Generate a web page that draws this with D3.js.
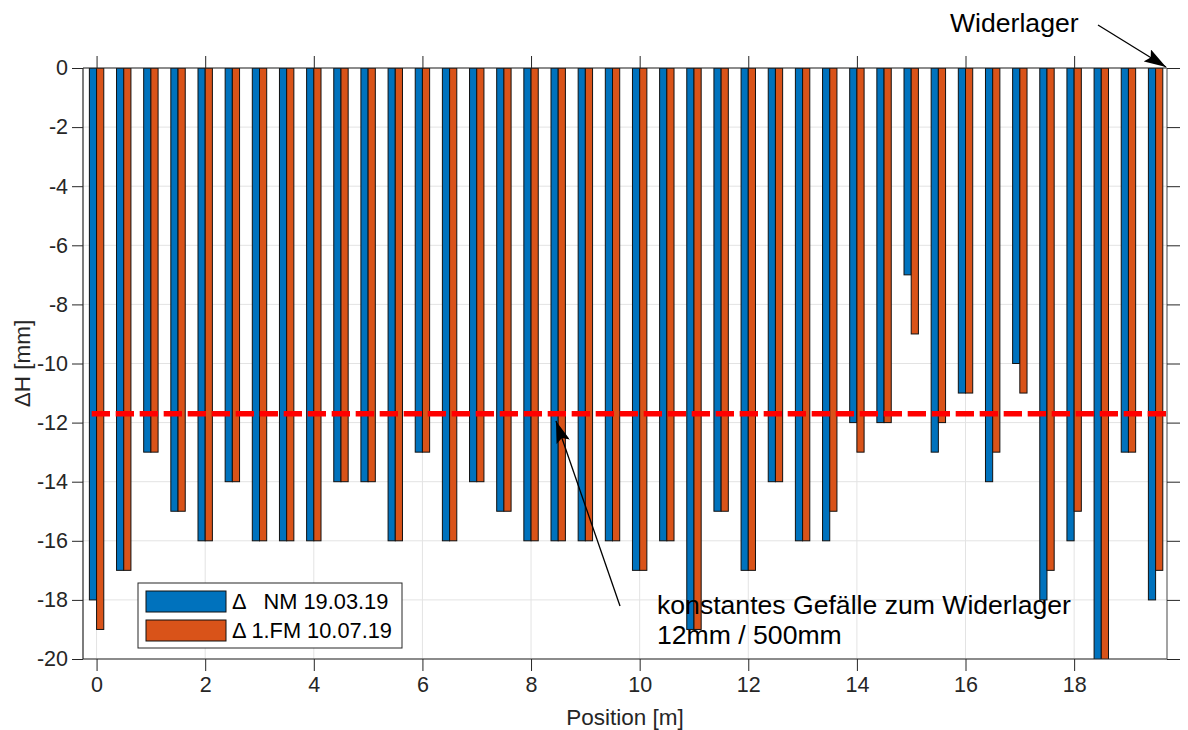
<!DOCTYPE html>
<html>
<head>
<meta charset="utf-8">
<script src="https://cdn.jsdelivr.net/npm/d3@7"></script>
<style>
  html, body { margin: 0; padding: 0; background: #fff; }
  svg { display: block; font-family: "Liberation Sans", Arial, Helvetica, sans-serif; }
</style>
</head>
<body>
<svg id="chart" width="1188" height="730"></svg>
<script>
// ---- data ----
const positions = [0, 0.5, 1, 1.5, 2, 2.5, 3, 3.5, 4, 4.5, 5, 5.5, 6, 6.5, 7, 7.5, 8, 8.5, 9, 9.5,
                   10, 10.5, 11, 11.5, 12, 12.5, 13, 13.5, 14, 14.5, 15, 15.5, 16, 16.5, 17, 17.5, 18, 18.5, 19, 19.5];
const nmValues = [-18, -17, -13, -15, -16, -14, -16, -16, -16, -14, -14, -16, -13, -16, -14, -15, -16, -16, -16, -16,
                  -17, -16, -19, -15, -17, -14, -16, -16, -12, -12, -7, -13, -11, -14, -10, -18, -16, -21, -13, -18];
const fmValues = [-19, -17, -13, -15, -16, -14, -16, -16, -16, -14, -14, -16, -13, -16, -14, -15, -16, -16, -16, -16,
                  -17, -16, -19, -15, -17, -14, -16, -15, -13, -12, -9, -12, -11, -13, -11, -17, -15, -21, -13, -17];
const seriesNames = ["\u0394   NM 19.03.19", "\u0394 1.FM 10.07.19"];
const xTicks = [0, 2, 4, 6, 8, 10, 12, 14, 16, 18];
const yTicks = [-20, -18, -16, -14, -12, -10, -8, -6, -4, -2, 0];
const refLevel = -11.7;
const refStart = -0.09;
const xLabel = "Position [m]";
const yLabel = "\u0394H [mm]";
const annoTop = "Widerlager";
const annoBottom = ["konstantes Gef\u00e4lle zum Widerlager", "12mm / 500mm"];

// ---- styling / layout ----
const colors = ["#0072BD", "#D95319"];
const axisColor = "#262626";
const gridColor = "#e3e3e3";
const plot = { left: 83, right: 1167, top: 68, bottom: 659 };
const barW = 7.2;

const svg = d3.select("#chart");
const x = d3.scaleLinear().domain([-0.25, 19.71]).range([plot.left, plot.right]);
const y = d3.scaleLinear().domain([-20, 0]).range([plot.bottom, plot.top]);

svg.append("defs").append("clipPath").attr("id", "clip")
  .append("rect").attr("x", plot.left).attr("y", plot.top)
  .attr("width", plot.right - plot.left).attr("height", plot.bottom - plot.top);

// grid
const grid = svg.append("g");
grid.selectAll(".gx").data(xTicks).enter().append("line")
  .attr("x1", d => x(d)).attr("x2", d => x(d))
  .attr("y1", plot.top).attr("y2", plot.bottom)
  .attr("stroke", gridColor).attr("stroke-width", 1);
grid.selectAll(".gy").data(yTicks).enter().append("line")
  .attr("x1", plot.left).attr("x2", plot.right)
  .attr("y1", d => y(d)).attr("y2", d => y(d))
  .attr("stroke", gridColor).attr("stroke-width", 1);

// bars
const barsG = svg.append("g").attr("clip-path", "url(#clip)");
const series = [nmValues, fmValues];
series.forEach((vals, si) => {
  barsG.selectAll(".b" + si).data(positions.map((p, i) => ({ p, v: vals[i] }))).enter().append("rect")
    .attr("x", d => x(d.p) + (si === 0 ? -barW : 0))
    .attr("width", barW)
    .attr("y", y(0))
    .attr("height", d => y(d.v) - y(0))
    .attr("fill", colors[si])
    .attr("stroke", "#111")
    .attr("stroke-width", 1);
});

// reference dashed line
svg.append("g").attr("clip-path", "url(#clip)").append("line")
  .attr("x1", x(refStart)).attr("x2", x(19.9))
  .attr("y1", y(refLevel)).attr("y2", y(refLevel))
  .attr("stroke", "#ff0000").attr("stroke-width", 5.5)
  .attr("stroke-dasharray", "18.3,5.7");

// axes box
const ax = svg.append("g");
ax.append("line").attr("x1", plot.left).attr("x2", plot.right).attr("y1", plot.top).attr("y2", plot.top)
  .attr("stroke", axisColor).attr("stroke-width", 1.2);
ax.append("line").attr("x1", plot.left).attr("x2", plot.right).attr("y1", plot.bottom).attr("y2", plot.bottom)
  .attr("stroke", axisColor).attr("stroke-width", 1.2);
ax.append("line").attr("x1", plot.left).attr("x2", plot.left).attr("y1", plot.top).attr("y2", plot.bottom)
  .attr("stroke", axisColor).attr("stroke-width", 1.2);
ax.append("line").attr("x1", plot.right).attr("x2", plot.right).attr("y1", plot.top).attr("y2", plot.bottom)
  .attr("stroke", "#666").attr("stroke-width", 1.2);

// bottom axis
const xAxis = d3.axisBottom(x).tickValues(xTicks).tickSize(12).tickPadding(6).tickFormat(d3.format("d"));
const gx = svg.append("g").attr("transform", `translate(0,${plot.bottom})`).call(xAxis);
gx.select(".domain").remove();
gx.selectAll(".tick line").attr("stroke", axisColor);
gx.selectAll(".tick text").attr("fill", axisColor).style("font-size", "21.5px")
  .style("font-family", "'Liberation Sans', Arial, sans-serif");

// top ticks
const xAxisTop = d3.axisTop(x).tickValues(xTicks).tickSize(12).tickFormat("");
const gxt = svg.append("g").attr("transform", `translate(0,${plot.top})`).call(xAxisTop);
gxt.select(".domain").remove();
gxt.selectAll(".tick line").attr("stroke", axisColor);

// left axis
const yAxis = d3.axisLeft(y).tickValues(yTicks).tickSize(11).tickPadding(4).tickFormat(d => d3.format("d")(d).replace("\u2212", "-"));
const gy = svg.append("g").attr("transform", `translate(${plot.left},0)`).call(yAxis);
gy.select(".domain").remove();
gy.selectAll(".tick line").attr("stroke", axisColor);
gy.selectAll(".tick text").attr("fill", axisColor).style("font-size", "21.5px")
  .style("font-family", "'Liberation Sans', Arial, sans-serif");

// right ticks
const yAxisR = d3.axisRight(y).tickValues(yTicks).tickSize(13).tickFormat("");
const gyr = svg.append("g").attr("transform", `translate(${plot.right},0)`).call(yAxisR);
gyr.select(".domain").remove();
gyr.selectAll(".tick line").attr("stroke", axisColor);

// axis labels
svg.append("text").attr("x", (plot.left + plot.right) / 2).attr("y", 725)
  .attr("text-anchor", "middle").attr("fill", axisColor).style("font-size", "22.5px").text(xLabel);
svg.append("text").attr("transform", `translate(30,${(plot.top + plot.bottom) / 2}) rotate(-90)`)
  .attr("text-anchor", "middle").attr("fill", axisColor).style("font-size", "22.5px").text(yLabel);

// legend
const lg = svg.append("g");
lg.append("rect").attr("x", 138).attr("y", 583).attr("width", 264).attr("height", 65)
  .attr("fill", "#fff").attr("stroke", axisColor).attr("stroke-width", 1);
seriesNames.forEach((name, i) => {
  const ry = 591 + i * 29;
  lg.append("rect").attr("x", 146).attr("y", ry).attr("width", 80).attr("height", 21)
    .attr("fill", colors[i]).attr("stroke", "#111").attr("stroke-width", 1);
  lg.append("text").attr("x", 232).attr("y", ry + 18).attr("fill", "#000")
    .attr("xml:space", "preserve").style("white-space", "pre")
    .style("font-size", "21.8px").text(name);
});

// annotations
const defs = svg.select("defs");
defs.append("marker").attr("id", "arrow").attr("viewBox", "0 0 22 14")
  .attr("refX", 22).attr("refY", 7).attr("markerWidth", 22).attr("markerHeight", 14)
  .attr("markerUnits", "userSpaceOnUse").attr("orient", "auto")
  .append("path").attr("d", "M0,0 L22,7 L0,14 L4,7 Z").attr("fill", "#000");

svg.append("text").attr("x", 950).attr("y", 32).attr("fill", "#000").style("font-size", "26.6px").text(annoTop);
svg.append("line").attr("x1", 1098).attr("y1", 25).attr("x2", x(19.71) - 1).attr("y2", y(0) - 1)
  .attr("stroke", "#000").attr("stroke-width", 1.3).attr("marker-end", "url(#arrow)");

svg.append("line").attr("x1", 620).attr("y1", 606).attr("x2", 556).attr("y2", 421)
  .attr("stroke", "#000").attr("stroke-width", 1.3).attr("marker-end", "url(#arrow)");
annoBottom.forEach((t, i) => {
  svg.append("text").attr("x", 657).attr("y", 614 + i * 30).attr("fill", "#000")
    .style("font-size", "26.6px").text(t);
});
</script>
</body>
</html>
